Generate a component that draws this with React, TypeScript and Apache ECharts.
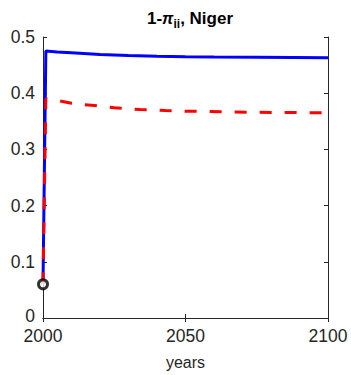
import React, { useEffect, useRef } from "react";
import * as echarts from "echarts";

const blueYears = [2000, 2001, 2005, 2010, 2020, 2030, 2040, 2050, 2060, 2075, 2100];
const blueValues = [0.06, 0.475, 0.4735, 0.472, 0.469, 0.467, 0.4657, 0.465, 0.4645, 0.464, 0.463];
const redYears = [2000, 2001, 2005, 2010, 2018, 2025, 2034, 2043, 2050, 2075, 2100];
const redValues = [0.06, 0.39, 0.387, 0.382, 0.378, 0.374, 0.371, 0.369, 0.368, 0.366, 0.365];
const startPoint = [2000, 0.06];
const xTicks = [2000, 2050, 2100];
const yTicks = [0, 0.1, 0.2, 0.3, 0.4, 0.5];

const FONT = "'Liberation Sans', Arial, Helvetica, sans-serif";
const AX = "#262626";

export default function App() {
  const ref = useRef<HTMLDivElement>(null);
  useEffect(() => {
    document.body.style.margin = "0";
    const chart = echarts.init(ref.current!, null, { renderer: "svg" });
    const pairs = (xs: number[], ys: number[]) => xs.map((x, i) => [x, ys[i]]);
    const axisCommon = {
      axisLine: { show: true, lineStyle: { color: AX, width: 1 } },
      axisTick: { show: true, inside: true, length: 4, lineStyle: { color: AX } },
      splitLine: { show: false },
    };
    chart.setOption({
      animation: false,
      textStyle: { fontFamily: FONT },
      title: {
        text: "{a|1-}{p|π}{s|ii}{a|, Niger}",
        left: 185,
        textAlign: "center",
        top: 1,
        textStyle: {
          rich: {
            a: { fontSize: 17, fontWeight: "bold", color: "#000", fontFamily: FONT, lineHeight: 24 },
            p: { fontSize: 16, fontStyle: "italic", color: "#000", fontFamily: FONT, lineHeight: 24 },
            s: { fontSize: 12, fontWeight: "bold", color: "#000", fontFamily: FONT, lineHeight: 12, verticalAlign: "bottom" },
          },
        },
      },
      grid: { left: 43, right: 23, top: 37, bottom: 48, containLabel: false },
      xAxis: [
        {
          type: "value",
          min: 2000,
          max: 2100,
          interval: 50,
          name: "years",
          nameLocation: "middle",
          nameGap: 36,
          nameTextStyle: { fontSize: 16, color: AX, fontFamily: FONT, lineHeight: 16 },
          axisLabel: { fontSize: 17.5, lineHeight: 14, color: AX, margin: 11, fontFamily: FONT,
            formatter: (v: number) => (xTicks.includes(v) ? String(v) : "") },
          ...axisCommon,
        },
        {
          type: "value",
          position: "top",
          min: 2000,
          max: 2100,
          interval: 50,
          axisLabel: { show: false },
          ...axisCommon,
        },
      ],
      yAxis: [
        {
          type: "value",
          min: 0,
          max: 0.5,
          interval: 0.1,
          axisLabel: { fontSize: 17.5, lineHeight: 14, color: AX, margin: 8, fontFamily: FONT,
            rich: { z: { fontSize: 17.5, lineHeight: 14, color: AX, fontFamily: FONT, padding: [0, 0, 5, 0] } },
            formatter: (v: number) => {
              const t = yTicks.find((y) => Math.abs(y - v) < 1e-9);
              if (t === undefined) return "";
              if (t === 0) return "{z|0}";
              return String(Number(t.toFixed(1)));
            } },
          ...axisCommon,
        },
        {
          type: "value",
          position: "right",
          min: 0,
          max: 0.5,
          interval: 0.1,
          axisLabel: { show: false },
          ...axisCommon,
        },
      ],
      series: [
        {
          type: "line",
          data: pairs(blueYears, blueValues),
          showSymbol: false,
          lineStyle: { color: "#0000ff", width: 3 },
          z: 2,
        },
        {
          type: "line",
          data: pairs(redYears, redValues),
          showSymbol: false,
          lineStyle: { color: "#ff0000", width: 3, type: [12, 13] },
          z: 3,
        },
        {
          type: "scatter",
          data: [startPoint],
          symbol: "circle",
          symbolSize: 9,
          itemStyle: { color: "#ffffff", borderColor: "#000000", borderWidth: 3 },
          z: 4,
        },
      ],
    });
    return () => chart.dispose();
  }, []);
  return <div ref={ref} style={{ width: 351, height: 375, background: "#fff" }} />;
}
